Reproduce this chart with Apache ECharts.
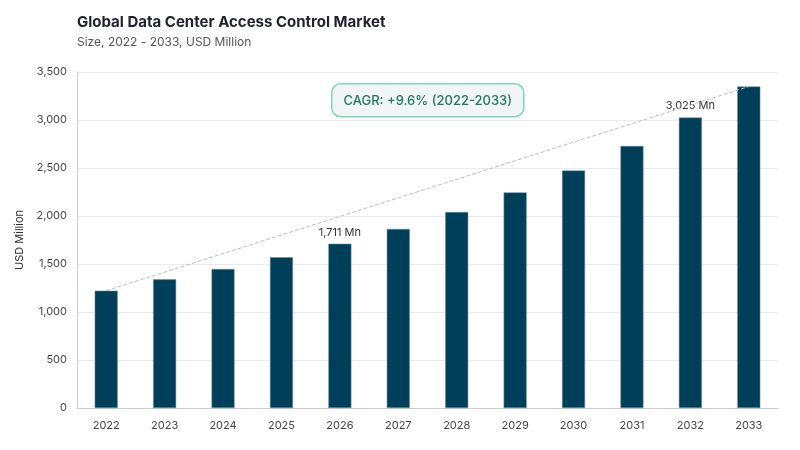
<!DOCTYPE html>
<html>
<head>
<meta charset="utf-8">
<title>Global Data Center Access Control Market</title>
<script src="https://cdn.jsdelivr.net/npm/echarts@6/dist/echarts.min.js"></script>
<style>
  html, body { margin: 0; padding: 0; background: #fff; }
  #chart { width: 800px; height: 450px; }
</style>
</head>
<body>
<div id="chart"></div>
<script>
var years = ['2022', '2023', '2024', '2025', '2026', '2027', '2028', '2029', '2030', '2031', '2032', '2033'];
var marketSize = [1222, 1340, 1448, 1570, 1711, 1865, 2041, 2246, 2474, 2730, 3025, 3349];
var labelledYears = ['2026', '2032'];
var yTicks = { min: 0, max: 3500, interval: 500 };

var font = 'Inter, "Noto Sans", sans-serif';
var chart = echarts.init(document.getElementById('chart'));

chart.setOption({
  animation: false,
  textStyle: { fontFamily: font },
  title: {
    text: 'Global Data Center Access Control Market',
    subtext: 'Size, 2022 - 2033, USD Million',
    left: 72,
    top: 10,
    itemGap: 6,
    textStyle: { fontSize: 15, fontWeight: 'bold', color: '#1f2230', fontFamily: font },
    subtextStyle: { fontSize: 12, color: '#555', fontFamily: font }
  },
  grid: { left: 77, right: 22, top: 72, bottom: 42 },
  xAxis: {
    type: 'category',
    data: years,
    axisTick: { show: false },
    axisLine: { lineStyle: { color: '#cccccc' } },
    axisLabel: { color: '#444', fontSize: 11, margin: 12 }
  },
  yAxis: {
    type: 'value',
    min: yTicks.min,
    max: yTicks.max,
    interval: yTicks.interval,
    name: 'USD Million',
    nameLocation: 'middle',
    nameGap: 50,
    nameTextStyle: { color: '#333', fontSize: 11 },
    axisLine: { show: true, lineStyle: { color: '#cccccc' } },
    axisTick: { show: false },
    axisLabel: {
      color: '#444',
      fontSize: 11,
      margin: 10,
      formatter: function (v) { return v.toLocaleString('en-US'); }
    },
    splitLine: { lineStyle: { color: '#ebebeb' } }
  },
  series: [{
    type: 'bar',
    data: marketSize.map(function (v, i) {
      var show = labelledYears.indexOf(years[i]) >= 0;
      return {
        value: v,
        label: {
          show: show,
          position: 'top',
          distance: 6,
          color: '#333',
          fontSize: 11,
          formatter: function (p) { return p.value.toLocaleString('en-US') + ' Mn'; }
        }
      };
    }),
    barWidth: 23,
    itemStyle: { color: '#003f5a', borderColor: '#6f8fa0', borderWidth: 0.5 },
    markLine: {
      silent: true,
      symbol: 'none',
      label: { show: false },
      lineStyle: { type: 'dashed', color: '#bdbdbd', width: 1 },
      data: [[
        { coord: [0, marketSize[0]] },
        { coord: [years.length - 1, marketSize[marketSize.length - 1]] }
      ]]
    }
  }],
  graphic: [{
    type: 'group',
    left: 331,
    top: 83,
    children: [{
      type: 'rect',
      shape: { x: 0, y: 0, width: 192, height: 33, r: 9 },
      style: { fill: '#f1f5f5', stroke: '#7fd6bb', lineWidth: 1.5 }
    }, {
      type: 'text',
      x: 96,
      y: 17,
      style: {
        text: 'CAGR: +9.6% (2022-2033)',
        fill: '#1d7a5c',
        fontSize: 13,
        fontWeight: 500,
        fontFamily: font,
        align: 'center',
        verticalAlign: 'middle'
      }
    }]
  }]
});
</script>
</body>
</html>
